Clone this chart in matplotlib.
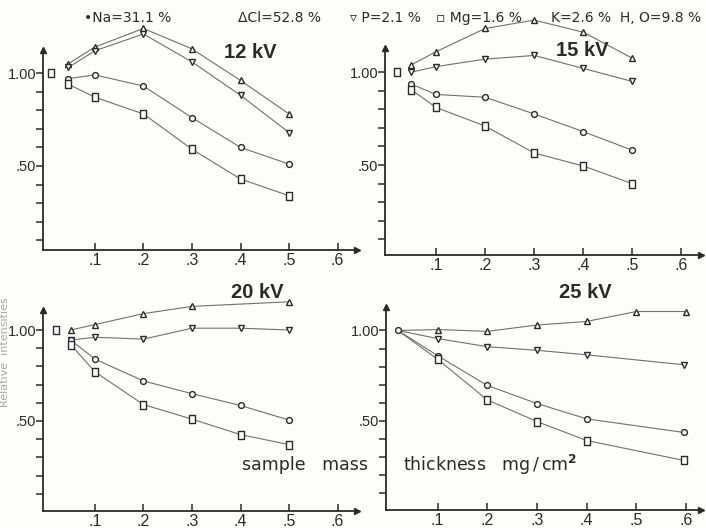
import numpy as np
import matplotlib
matplotlib.use("Agg")
import matplotlib.pyplot as plt
from matplotlib.path import Path

plt.rcParams['font.family'] = ['Liberation Sans', 'DejaVu Sans']

W, H = 706, 528

# ---- data (relative intensity vs. mass thickness) ----
panels = ["12 kV", "15 kV", "20 kV", "25 kV"]

x12 = [0.045, 0.1, 0.2, 0.3, 0.4, 0.5]
cl12 = [1.05, 1.14, 1.24, 1.13, 0.96, 0.78]
p12 = [1.03, 1.12, 1.21, 1.06, 0.88, 0.68]
na12 = [0.97, 0.99, 0.93, 0.76, 0.60, 0.51]
mg12 = [0.94, 0.87, 0.78, 0.59, 0.43, 0.34]

x15 = [0.05, 0.1, 0.2, 0.3, 0.4, 0.5]
cl15 = [1.04, 1.11, 1.235, 1.28, 1.215, 1.075]
p15 = [1.00, 1.03, 1.07, 1.09, 1.02, 0.95]
na15 = [0.935, 0.88, 0.865, 0.775, 0.68, 0.58]
mg15 = [0.905, 0.81, 0.71, 0.565, 0.495, 0.40]

x20 = [0.05, 0.1, 0.2, 0.3, 0.4, 0.5]
x20_cl = [0.05, 0.1, 0.2, 0.3, 0.5]
cl20 = [1.0, 1.03, 1.09, 1.13, 1.155]
p20 = [0.945, 0.96, 0.95, 1.01, 1.01, 1.0]
na20 = [0.945, 0.84, 0.72, 0.65, 0.585, 0.505]
mg20 = [0.92, 0.77, 0.59, 0.51, 0.425, 0.37]

x25 = [0.1, 0.2, 0.3, 0.4, 0.5, 0.6]
x25_end = [0.1, 0.2, 0.3, 0.4, 0.595]
cl25 = [1.005, 0.995, 1.03, 1.05, 1.105, 1.105]
p25 = [0.955, 0.91, 0.89, 0.865, 0.81]
na25 = [0.86, 0.695, 0.595, 0.51, 0.435]
mg25 = [0.84, 0.615, 0.495, 0.39, 0.28]

# normalisation point at ~zero thickness
ref_x = [0.01, 0.02, 0.02, 0.02]
ref_y = 1.0

xticks = [0.1, 0.2, 0.3, 0.4, 0.5, 0.6]
xtick_labels = [".1", ".2", ".3", ".4", ".5", ".6"]
yticks = [0.1, 0.2, 0.3, 0.4, 0.5, 0.6, 0.7, 0.8, 0.9, 1.0]

legend_items = ["\u2022Na=31.1 %", "\u0394Cl=52.8 %", "\u25BF P=2.1 %",
                "\u25AB Mg=1.6 %", "K=2.6 %  H, O=9.8 %"]
legend_x = [84, 238, 350, 436, 551]

rect = Path([(-0.33, -0.5), (0.33, -0.5), (0.33, 0.5), (-0.33, 0.5), (-0.33, -0.5)],
            closed=True)

ink = "#2a2a2a"
line_c = "#707070"
bg = "#fdfdfa"


def frac(px, py):
    return px / W, 1 - py / H


fig = plt.figure(figsize=(W / 100, H / 100), dpi=100, facecolor=bg)

# axes boxes in pixels: left, top, right, bottom, plus limits
boxes = [
    (43, 50, 357, 250, (-0.007, 0.64), (0.048, 1.124)),
    (385, 48, 701, 255, (-0.004, 0.64), (0.016, 1.13)),
    (43, 310, 357, 511, (-0.007, 0.64), (0.005, 1.11)),
    (386, 307, 701, 510, (-0.004, 0.63), (0.005, 1.13)),
]

series = [
    [(x12, cl12, "^"), (x12, p12, "v"), (x12, na12, "o"), (x12, mg12, rect)],
    [(x15, cl15, "^"), (x15, p15, "v"), (x15, na15, "o"), (x15, mg15, rect)],
    [(x20_cl, cl20, "^"), (x20, p20, "v"), (x20, na20, "o"), (x20, mg20, rect)],
    [(x25, cl25, "^"), (x25_end, p25, "v"), (x25_end, na25, "o"), (x25_end, mg25, rect)],
]
ref_markers = [rect, rect, rect, "o"]
title_pos = [(250, 52), (582, 50), (257, 293), (585, 293)]

for i, (l, t, r, b, xl, yl) in enumerate(boxes):
    x0, y0 = frac(l, b)
    ax = fig.add_axes([x0, y0, (r - l) / W, (b - t) / H])
    ax.set_facecolor("none")
    ax.set_xlim(*xl)
    ax.set_ylim(*yl)
    for s in ["top", "right"]:
        ax.spines[s].set_visible(False)
    for s in ["left", "bottom"]:
        ax.spines[s].set_color(ink)
        ax.spines[s].set_linewidth(1.3)
    ax.plot(1, 0, ">", color=ink, ms=5, transform=ax.transAxes, clip_on=False)
    ax.plot(0, 1, "^", color=ink, ms=5, transform=ax.transAxes, clip_on=False)

    ax.set_xticks(xticks)
    ax.set_xticklabels(xtick_labels)
    ax.set_yticks(yticks)
    ax.set_yticklabels(["" if abs(v - 1.0) > 1e-9 and abs(v - 0.5) > 1e-9
                        else ("1.00" if v == 1.0 else ".50") for v in yticks])
    ax.tick_params(axis="x", direction="in", length=5, width=1.1, color=ink,
                   labelsize=11.5, labelcolor=ink, pad=2)
    ax.tick_params(axis="y", direction="out", length=5, width=1.1, color=ink,
                   labelsize=10.5, labelcolor=ink, pad=0)

    for xs, ys, m in series[i]:
        if i == 3:
            ax.plot([ref_x[i]] + list(xs), [ref_y] + list(ys), "-", color=line_c,
                    lw=0.8, clip_on=False, zorder=2)
        else:
            ax.plot(xs, ys, "-", color=line_c, lw=0.8, clip_on=False, zorder=2)
        ms = 4.2 if m == "o" else (6 if m is rect else 4.6)
        ax.plot(xs, ys, linestyle="none", marker=m, ms=ms, mfc="white", mec=ink,
                mew=1.0, clip_on=False, zorder=3)
    ax.plot([ref_x[i]], [ref_y], linestyle="none", marker=ref_markers[i],
            ms=6 if ref_markers[i] is rect else 4.2, mfc="white", mec=ink, mew=1.0,
            clip_on=False, zorder=3)

    tx, ty = frac(*title_pos[i])
    fig.text(tx, ty, panels[i], ha="center", va="center", fontsize=14.5,
             fontweight="bold", color=ink)

# element legend along the top
for s, px in zip(legend_items, legend_x):
    x, y = frac(px, 18)
    fig.text(x, y, s, ha="left", va="center", fontsize=10, color=ink,
             family=['DejaVu Sans'])

# shared axis labels
x, y = frac(242, 465)
fig.text(x, y, "sample   mass", ha="left", va="center", fontsize=12.5, color=ink,
         family=['DejaVu Sans'])
x, y = frac(403, 465)
fig.text(x, y, "thickness   mg$\\,/\\,$cm$^{\\mathbf{2}}$", ha="left", va="center",
         fontsize=12.5, color=ink, family=['DejaVu Sans'])
x, y = frac(5.5, 352)
fig.text(x, y, "Relative  intensities", rotation=90, ha="center", va="center",
         fontsize=8, color="#a8a8a8", family=['DejaVu Sans'])

fig.savefig("out.png", dpi=100, facecolor=bg)
